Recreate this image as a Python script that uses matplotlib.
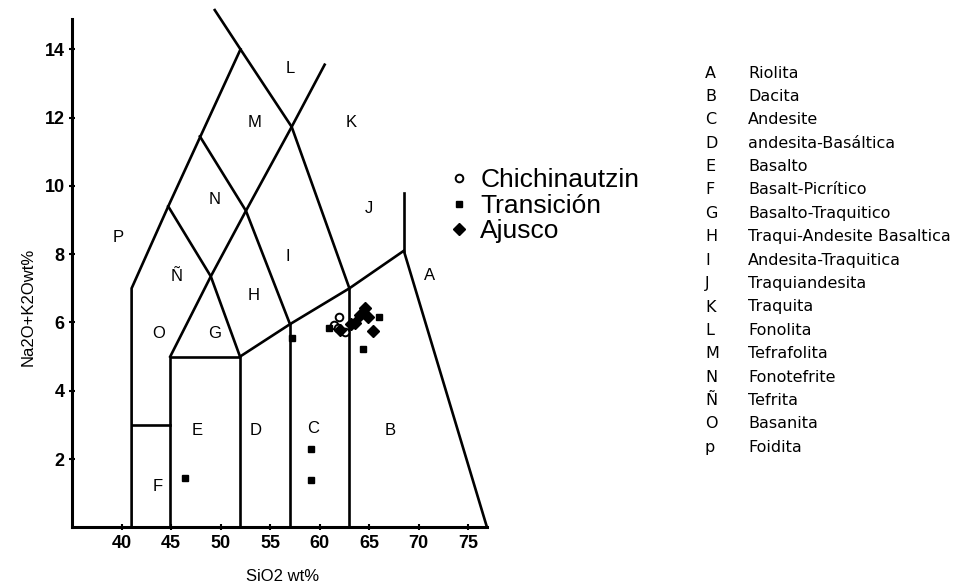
import matplotlib
matplotlib.use("Agg")
import matplotlib.pyplot as plt

# field boundary polylines of the TAS diagram (SiO2, Na2O+K2O)
field_lines = [
    [(41, 0), (41, 7), (44.7, 9.4), (52, 14)],
    [(49.4, 15.15), (52, 14), (57.17, 11.73), (63, 7)],
    [(41, 3), (44.9, 3)],
    [(44.9, 0), (44.9, 5), (51.95, 5), (51.95, 0)],
    [(57, 0), (57, 5.95)],
    [(63, 0), (63, 7)],
    [(51.95, 5), (57, 5.95), (63, 7), (68.5, 8.1), (76.9, 0)],
    [(44.9, 5), (49.0, 7.35), (52.55, 9.27), (57.17, 11.73), (60.5, 13.55)],
    [(44.7, 9.4), (49.0, 7.35), (51.95, 5)],
    [(47.9, 11.45), (52.55, 9.27), (57, 5.95)],
    [(68.5, 8.1), (68.5, 9.8)],
]

field_letters = ["A", "B", "C", "D", "E", "F", "G", "H", "I", "J", "K", "L", "M", "N", "Ñ", "O", "P"]
field_x = [71.1, 67.1, 59.35, 53.5, 47.6, 43.6, 49.4, 53.3, 56.8, 65.0, 63.2, 57.0, 53.4, 49.35, 45.5, 43.7, 39.6]
field_y = [7.39, 2.85, 2.9, 2.85, 2.85, 1.19, 5.68, 6.8, 7.93, 9.35, 11.85, 13.45, 11.85, 9.6, 7.36, 5.68, 8.5]

list_letters = ["A", "B", "C", "D", "E", "F", "G", "H", "I", "J", "K", "L", "M", "N", "Ñ", "O", "p"]
list_names = ["Riolita", "Dacita", "Andesite", "andesita-Basáltica", "Basalto", "Basalt-Picrítico",
              "Basalto-Traquitico", "Traqui-Andesite Basaltica", "Andesita-Traquitica", "Traquiandesita",
              "Traquita", "Fonolita", "Tefrafolita", "Fonotefrite", "Tefrita", "Basanita", "Foidita"]

# samples
chich_sio2 = [62.0, 61.4, 62.55, 61.8]
chich_alk = [6.15, 5.93, 5.73, 5.85]
trans_sio2 = [46.4, 59.1, 59.1, 57.2, 60.9, 66.0, 64.4]
trans_alk = [1.43, 2.28, 1.39, 5.54, 5.85, 6.15, 5.21]
ajus_sio2 = [64.6, 64.1, 63.6, 64.9, 65.35, 62.05, 63.2]
ajus_alk = [6.41, 6.22, 5.98, 6.17, 5.76, 5.78, 5.95]

plt.rcParams['font.family'] = ['Liberation Sans', 'DejaVu Sans']

fig = plt.figure(figsize=(9.59, 5.88), dpi=100)
ax = fig.add_axes([0.0753, 0.1032, 0.4387, 0.8942])
ax.set_xlim(35, 77.5)
ax.set_ylim(0, 15.4)

for line in field_lines:
    xs = [p[0] for p in line]
    ys = [p[1] for p in line]
    ax.plot(xs, ys, color="black", lw=1.9, solid_joinstyle="miter", clip_on=False)

for t, x, y in zip(field_letters, field_x, field_y):
    ax.text(x, y, t, fontsize=12, ha="center", va="center")

ax.plot(chich_sio2, chich_alk, "o", ms=5.5, mfc="white", mec="black", mew=1.4, label="Chichinautzin", zorder=3)
ax.plot(trans_sio2, trans_alk, "s", ms=4.5, color="black", label="Transición", zorder=3)
ax.plot(ajus_sio2, ajus_alk, "D", ms=6, color="black", label="Ajusco", zorder=3)

for s in ["top", "right"]:
    ax.spines[s].set_visible(False)
ax.spines["left"].set_bounds(0, 14.9)
ax.spines["bottom"].set_bounds(35, 76.9)
ax.spines["left"].set_linewidth(2.2)
ax.spines["bottom"].set_linewidth(2.2)
ax.set_xticks([40, 45, 50, 55, 60, 65, 70, 75])
ax.set_yticks([2, 4, 6, 8, 10, 12, 14])
ax.tick_params(direction="inout", length=5, width=1.5, labelsize=13, pad=3)
for lab in ax.get_xticklabels() + ax.get_yticklabels():
    lab.set_fontweight("bold")

ax.set_xlabel("SiO2 wt%", fontsize=12, labelpad=12)
ax.set_ylabel("Na2O+K2Owt%", fontsize=12)
ax.yaxis.set_label_coords(-0.088, 0.42)

ax.legend(loc="center left", bbox_to_anchor=(0.472, 0.65), bbox_transform=fig.transFigure,
          frameon=False, fontsize=19, handlelength=0.5, handletextpad=0.55,
          labelspacing=0.05, borderpad=0, borderaxespad=0)

for i, (t, n) in enumerate(zip(list_letters, list_names)):
    y = 1 - (73 + i * 23.4) / 588
    fig.text(705 / 959, y, t, fontsize=11.5, family="DejaVu Sans", va="center")
    fig.text(748 / 959, y, n, fontsize=11.5, family="DejaVu Sans", va="center")

fig.savefig("out.png", dpi=100)
